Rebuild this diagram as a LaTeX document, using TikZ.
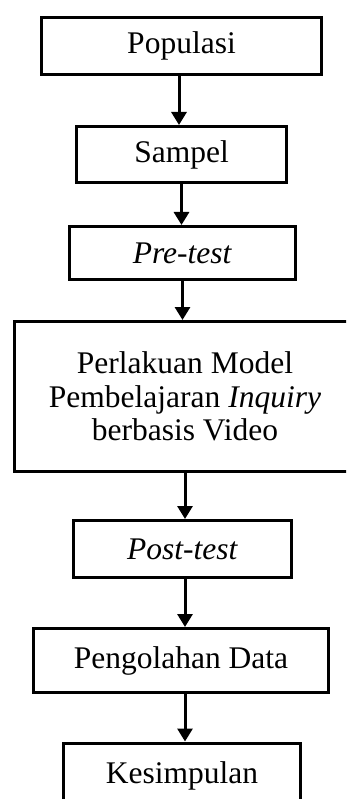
\documentclass[tikz,border=0pt]{standalone}
\usepackage{fontspec}
\setmainfont{Liberation Serif}
\usetikzlibrary{arrows.meta}
\begin{document}
\begin{tikzpicture}[x=1pt,y=-1pt,
  box/.style={draw=black, line width=3pt, inner sep=0pt, align=center,
    font=\fontsize{31.5}{33.5}\selectfont},
  arr/.style={line width=3pt, -{Triangle[length=13pt,width=15pt]}}]
\useasboundingbox (0,0) rectangle (346,799);
\clip (0,0) rectangle (346,799);
\node[box, minimum width=280pt, minimum height=57pt] (n1) at (181.5,46) {Populasi};
\node[box, minimum width=210pt, minimum height=56pt] (n2) at (181.5,154.5) {Sampel};
\node[box, minimum width=226pt, minimum height=53pt] (n3) at (182.5,253) {\textit{Pre-test}};
\node[box, minimum width=341pt, minimum height=150pt] (n4) at (185,396.5) {Perlakuan Model\\Pembelajaran \textit{Inquiry}\\berbasis Video};
\node[box, minimum width=218pt, minimum height=57pt] (n5) at (182.5,549) {\textit{Post-test}};
\node[box, minimum width=295pt, minimum height=64pt] (n6) at (181,660.5) {Pengolahan Data};
\node[box, minimum width=237pt, minimum height=66pt] (n7) at (182,776) {Kesimpulan};
\draw[arr] ([xshift=-2.5pt]n1.south) -- ([xshift=-2.5pt]n1.south |- n2.north);
\draw[arr] (n2.south) -- (n2.south |- n3.north);
\draw[arr] (n3.south) -- (n3.south |- n4.north);
\draw[arr] (n4.south) -- (n4.south |- n5.north);
\draw[arr] ([xshift=2.5pt]n5.south) -- ([xshift=2.5pt]n5.south |- n6.north);
\draw[arr] ([xshift=4pt]n6.south) -- ([xshift=4pt]n6.south |- n7.north);
\end{tikzpicture}
\end{document}
